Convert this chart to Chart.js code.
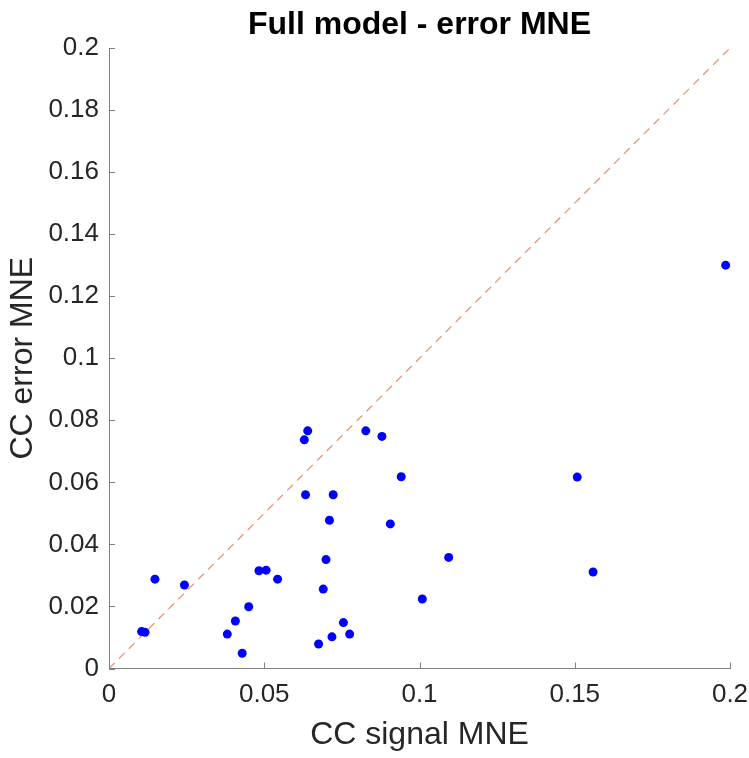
<!DOCTYPE html>
<html>
<head>
<meta charset="utf-8">
<script src="https://cdn.jsdelivr.net/npm/chart.js@4"></script>
<style>
    html, body { margin: 0; padding: 0; background: #fff; }
    #wrap { width: 749px; height: 758px; position: relative; }
</style>
</head>
<body>
<div id="wrap"><canvas id="chart"></canvas></div>
<script>
// CC signal MNE (x) vs CC error MNE (y), one point per subject
var signalMNE = [
    0.0148, 0.0243, 0.0105, 0.0116, 0.0483, 0.0506, 0.0543, 0.0450,
    0.0407, 0.0381, 0.0429, 0.0640, 0.0629, 0.0827, 0.0879, 0.0941,
    0.0633, 0.0722, 0.0710, 0.0906, 0.0699, 0.1094, 0.0690, 0.1009,
    0.0755, 0.0718, 0.0775, 0.0675, 0.1986, 0.1508, 0.1559
];
var errorMNE = [
    0.0288, 0.0269, 0.0119, 0.0117, 0.0315, 0.0317, 0.0288, 0.0199,
    0.0153, 0.0111, 0.0049, 0.0766, 0.0737, 0.0766, 0.0748, 0.0618,
    0.0560, 0.0560, 0.0478, 0.0466, 0.0351, 0.0358, 0.0256, 0.0224,
    0.0148, 0.0102, 0.0111, 0.0079, 0.1300, 0.0617, 0.0311
];
var identityLine = [0, 0.2];
var xTicks = [0, 0.05, 0.1, 0.15, 0.2];
var yTicks = [0, 0.02, 0.04, 0.06, 0.08, 0.1, 0.12, 0.14, 0.16, 0.18, 0.2];
var chartTitle = 'Full model - error MNE';

(function () {
    'use strict';

    var FONT = "'Liberation Sans', Arial, Helvetica, sans-serif";
    var AXIS = '#808080';
    var TEXT = '#262626';

    function fmt(v) {
        return String(Number(v.toFixed(2)));
    }

    var points = [];
    for (var i = 0; i < signalMNE.length; i++) {
        points.push({ x: signalMNE[i], y: errorMNE[i] });
    }
    var diag = [];
    for (var j = 0; j < identityLine.length; j++) {
        diag.push({ x: identityLine[j], y: identityLine[j] });
    }

    // MATLAB style: short tick marks pointing into the plot, title over the axes box
    var matlabAxes = {
        id: 'matlabAxes',
        afterDatasetsDraw: function (chart) {
            var ctx = chart.ctx;
            var xs = chart.scales.x;
            var ys = chart.scales.y;
            var area = chart.chartArea;
            ctx.save();
            ctx.strokeStyle = AXIS;
            ctx.lineWidth = 1;
            ctx.beginPath();
            for (var i = 0; i < xTicks.length; i++) {
                var px = Math.round(xs.getPixelForValue(xTicks[i])) + 0.5;
                ctx.moveTo(px, area.bottom);
                ctx.lineTo(px, area.bottom - 6);
            }
            for (var k = 0; k < yTicks.length; k++) {
                var py = Math.round(ys.getPixelForValue(yTicks[k])) + 0.5;
                ctx.moveTo(area.left, py);
                ctx.lineTo(area.left + 6, py);
            }
            ctx.stroke();

            ctx.fillStyle = '#000';
            ctx.font = 'bold 32px ' + FONT;
            ctx.textAlign = 'center';
            ctx.textBaseline = 'middle';
            ctx.fillText(chartTitle, (area.left + area.right) / 2, 25);
            ctx.restore();
        }
    };

    new Chart(document.getElementById('chart'), {
        type: 'scatter',
        data: {
            datasets: [{
                label: 'subjects',
                data: points,
                backgroundColor: '#0000ff',
                borderWidth: 0,
                pointRadius: 4.5,
                pointHoverRadius: 4.5
            }, {
                label: 'identity',
                data: diag,
                showLine: true,
                borderColor: 'rgb(236, 140, 100)',
                backgroundColor: 'rgb(236, 140, 100)',
                borderWidth: 1.2,
                borderDash: [8, 6],
                pointRadius: 0,
                pointHoverRadius: 0,
                fill: false
            }]
        },
        options: {
            responsive: true,
            maintainAspectRatio: false,
            animation: false,
            layout: { padding: { left: 0, right: 0, top: 48, bottom: 0 } },
            plugins: {
                legend: { display: false },
                tooltip: { enabled: false },
                title: { display: false }
            },
            scales: {
                x: {
                    type: 'linear',
                    min: 0,
                    max: 0.2,
                    afterBuildTicks: function (scale) {
                        scale.ticks = xTicks.map(function (v) { return { value: v }; });
                    },
                    afterFit: function (scale) {
                        scale.height = 89.5;
                        scale.paddingRight = 19;
                    },
                    ticks: {
                        color: TEXT,
                        padding: 11,
                        maxRotation: 0,
                        font: { family: FONT, size: 26 },
                        callback: function (v) { return fmt(v); }
                    },
                    grid: { display: false, drawTicks: false },
                    border: { display: true, color: AXIS, width: 1 },
                    title: {
                        display: true,
                        text: 'CC signal MNE',
                        color: TEXT,
                        font: { family: FONT, size: 32 },
                        padding: { top: 0, bottom: 4 }
                    }
                },
                y: {
                    type: 'linear',
                    min: 0,
                    max: 0.2,
                    afterBuildTicks: function (scale) {
                        scale.ticks = yTicks.map(function (v) { return { value: v }; });
                    },
                    afterFit: function (scale) { scale.width = 109; },
                    ticks: {
                        color: TEXT,
                        padding: 10,
                        font: { family: FONT, size: 26 },
                        callback: function (v) { return fmt(v); }
                    },
                    grid: { display: false, drawTicks: false },
                    border: { display: true, color: AXIS, width: 1 },
                    title: {
                        display: true,
                        text: 'CC error MNE',
                        color: TEXT,
                        font: { family: FONT, size: 32 },
                        padding: { top: 4, bottom: 0 }
                    }
                }
            }
        },
        plugins: [matlabAxes]
    });
})();
</script>
</body>
</html>
